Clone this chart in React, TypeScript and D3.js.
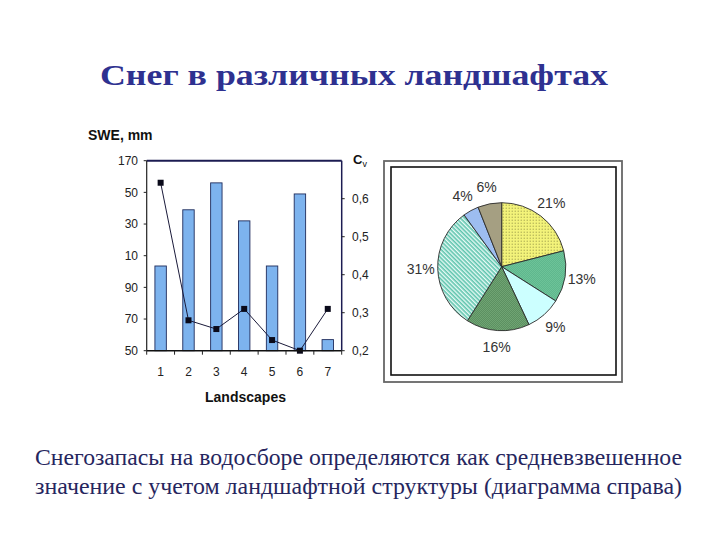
import React from "react";
import * as d3 from "d3";

const TITLE = "Снег в различных ландшафтах";
const CAPTION1 = "Снегозапасы на водосборе определяются как средневзвешенное";
const CAPTION2 = "значение с учетом ландшафтной структуры (диаграмма справа)";

const categories = ["1", "2", "3", "4", "5", "6", "7"];
const sweValues = [103.5, 139, 156, 132, 103.5, 149, 57];
const cvValues = [0.642, 0.28, 0.257, 0.31, 0.228, 0.2, 0.31];
const leftTickValues = [50, 70, 90, 110, 130, 150, 170];
const leftTickLabels = ["50", "70", "90", "10", "30", "50", "170"];
const rightTickValues = [0.2, 0.3, 0.4, 0.5, 0.6];
const rightTickLabels = ["0,2", "0,3", "0,4", "0,5", "0,6"];

const pieShares = [21, 13, 9, 16, 31, 4, 6];
const pieLabels = ["21%", "13%", "9%", "16%", "31%", "4%", "6%"];
const pieFills = ["url(#pYellow)", "url(#pGreen)", "#ccffff", "url(#pDark)", "url(#pStripe)", "#9dbdf0", "#a59f82"];

export default function App() {
  const L = 146.7, R = 341.7, T = 160.7, B = 350.7;
  const x = d3.scaleBand<string>().domain(categories).range([L, R]).paddingInner(0.59).paddingOuter(0.295);
  const yL = d3.scaleLinear().domain([50, 170]).range([B, T]);
  const yR = d3.scaleLinear().domain([0.2, 0.7]).range([B, T]);
  const step = (R - L) / categories.length;
  const line = d3
    .line<number>()
    .x((_, i) => (x(categories[i]) as number) + x.bandwidth() / 2)
    .y((d) => yR(d));

  const cx = 501.7, cy = 266.7, rad = 64;
  const pie = d3.pie<number>().sort(null).value((d) => d)(pieShares);
  const arc = d3.arc<d3.PieArcDatum<number>>().innerRadius(0).outerRadius(rad);
  const labelArc = d3.arc<d3.PieArcDatum<number>>().innerRadius(81).outerRadius(81);

  const navy = "#1c1c52";
  const sans = "Arial, 'Liberation Sans', sans-serif";
  const serif = "'Times New Roman', 'Liberation Serif', serif";

  return (
    <svg width={720} height={540} style={{ position: "absolute", left: 0, top: 0, background: "#fff" }}>
      <defs>
        <pattern id="pYellow" width="3" height="3" patternUnits="userSpaceOnUse">
          <rect width="3" height="3" fill="#f3f37a" />
          <rect x="1" y="1" width="1" height="1" fill="#8a8a40" />
        </pattern>
        <pattern id="pGreen" width="2" height="2" patternUnits="userSpaceOnUse">
          <rect width="2" height="2" fill="#8fe0b4" />
          <rect width="1" height="1" fill="#3d9a72" />
          <rect x="1" y="1" width="1" height="1" fill="#3d9a72" />
        </pattern>
        <pattern id="pDark" width="2" height="2" patternUnits="userSpaceOnUse">
          <rect width="2" height="2" fill="#9fd6a0" />
          <rect width="1" height="1" fill="#2c5e34" />
          <rect x="1" y="1" width="1" height="1" fill="#2c5e34" />
        </pattern>
        <pattern id="pStripe" width="3" height="3" patternUnits="userSpaceOnUse" patternTransform="rotate(45)">
          <rect width="3" height="3" fill="#e8fbf6" />
          <rect width="3" height="1.6" fill="#5ec4ad" />
        </pattern>
      </defs>

      <text x={100} y={85} textLength={508} lengthAdjust="spacingAndGlyphs" fontFamily={serif} fontWeight="bold" fontSize={29} fill="#2e3190">
        {TITLE}
      </text>

      {/* bar chart */}
      <text x={88} y={140} fontFamily={sans} fontWeight="bold" fontSize={14} fill="#111">SWE, mm</text>
      {categories.map((c, i) => (
        <rect
          key={c}
          x={x(c)}
          y={yL(sweValues[i])}
          width={x.bandwidth()}
          height={B - yL(sweValues[i])}
          fill="#7db3ee"
          stroke="#1f2c5c"
          strokeWidth={0.9}
        />
      ))}
      <path d={line(cvValues) || ""} fill="none" stroke="#1a1a3a" strokeWidth={1} />
      {cvValues.map((v, i) => (
        <rect
          key={i}
          x={(x(categories[i]) as number) + x.bandwidth() / 2 - 3}
          y={yR(v) - 3}
          width={6}
          height={6}
          fill="#0a0a1a"
        />
      ))}
      {/* frame */}
      <line x1={L} x2={R} y1={T} y2={T} stroke={navy} strokeWidth={2} />
      <line x1={R} x2={R} y1={T} y2={B} stroke={navy} strokeWidth={1.5} />
      <line x1={L} x2={L} y1={T} y2={B} stroke="#222" strokeWidth={1.2} />
      <line x1={L} x2={R} y1={B} y2={B} stroke="#111" strokeWidth={1.5} />
      {leftTickValues.map((v, i) => (
        <g key={v}>
          <line x1={L - 3} x2={L} y1={yL(v)} y2={yL(v)} stroke="#222" />
          <text x={138} y={yL(v)} dy="0.35em" textAnchor="end" fontFamily={sans} fontSize={12} fill="#222">
            {leftTickLabels[i]}
          </text>
        </g>
      ))}
      {rightTickValues.map((v, i) => (
        <g key={v}>
          <line x1={R} x2={R + 3} y1={yR(v)} y2={yR(v)} stroke="#222" />
          <text x={352} y={yR(v)} dy="0.35em" fontFamily={sans} fontSize={12} fill="#222">
            {rightTickLabels[i]}
          </text>
        </g>
      ))}
      {d3.range(categories.length + 1).map((i) => (
        <line key={i} x1={L + i * step} x2={L + i * step} y1={B} y2={B + 4} stroke="#222" />
      ))}
      {categories.map((c) => (
        <text key={c} x={(x(c) as number) + x.bandwidth() / 2} y={376} textAnchor="middle" fontFamily={sans} fontSize={12} fill="#222">
          {c}
        </text>
      ))}
      <text x={245.5} y={402} textAnchor="middle" fontFamily={sans} fontWeight="bold" fontSize={14} fill="#111">Landscapes</text>
      <text x={353} y={164} fontFamily={sans} fontWeight="bold" fontSize={13} fill="#111">
        C<tspan fontSize={9} fontWeight="normal" dy={3}>v</tspan>
      </text>

      {/* pie panel */}
      <rect x={384} y={161} width={238} height={221} fill="none" stroke="#666" strokeWidth={1.8} />
      <rect x={391} y={167} width={225} height={208} fill="#fff" stroke="#111" strokeWidth={1.6} />
      <g transform={`translate(${cx},${cy})`}>
        {pie.map((d, i) => (
          <path key={i} d={arc(d) || ""} fill={pieFills[i]} stroke="#2a2a2a" strokeWidth={0.9} />
        ))}
        {pie.map((d, i) => {
          const [lx, ly] = labelArc.centroid(d);
          return (
            <text key={i} x={lx} y={ly} dy="0.35em" textAnchor="middle" fontFamily={sans} fontSize={14} fill="#333">
              {pieLabels[i]}
            </text>
          );
        })}
      </g>

      <text x={35} y={465} textLength={647} lengthAdjust="spacingAndGlyphs" fontFamily={serif} fontSize={24} fill="#26265e">{CAPTION1}</text>
      <text x={35} y={494} textLength={647} lengthAdjust="spacingAndGlyphs" fontFamily={serif} fontSize={24} fill="#26265e">{CAPTION2}</text>
    </svg>
  );
}
